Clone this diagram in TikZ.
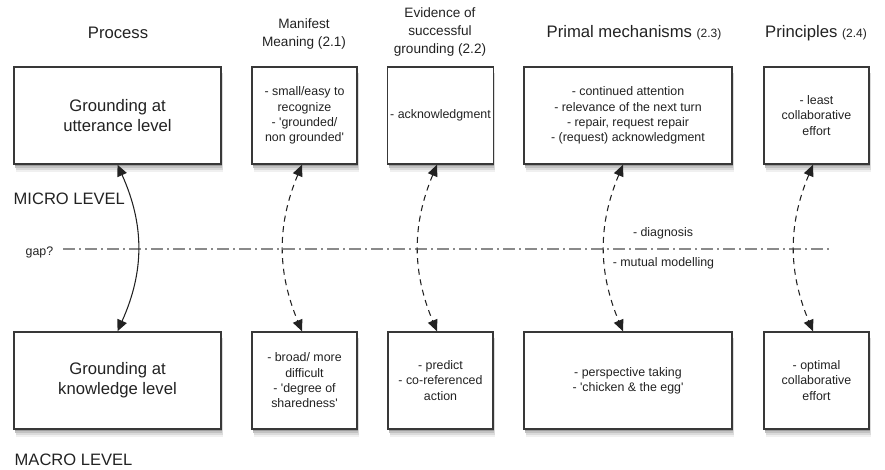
\documentclass[tikz,border=0pt]{standalone}
\usepackage{fontspec}
\setmainfont{Liberation Sans}[Ligatures=TeXOff]
\usetikzlibrary{arrows.meta}
\definecolor{ink}{HTML}{222222}
\definecolor{lineg}{HTML}{8A8A8A}
\tikzset{
  box/.style={draw=ink!90, line width=1.1pt, fill=white, minimum height=97*0.75pt, inner sep=2pt, align=center, text=ink},
  wide/.style={box, minimum width=207*0.75pt},
  narrow/.style={box, minimum width=105*0.75pt},
  primal/.style={box, minimum width=208*0.75pt},
  big/.style={font=\fontsize{12.5}{15}\selectfont},
  small/.style={font=\fontsize{9.3}{11.5}\selectfont},
  head/.style={text=ink, align=center, font=\fontsize{12.5}{15}\selectfont},
  headsm/.style={text=ink, align=center, font=\fontsize{10.2}{13.5}\selectfont},
  lbl/.style={text=ink, font=\fontsize{9.3}{11.5}\selectfont},
  lvl/.style={text=ink, anchor=west, font=\fontsize{12.4}{15}\selectfont},
  link/.style={draw=ink, line width=0.8pt, {Triangle[length=8.5pt,width=7.5pt]}-{Triangle[length=8.5pt,width=7.5pt]}},
  dlink/.style={link, dash pattern=on 4.5pt off 3.5pt}
}
\newcommand{\shadowrect}[4]{% x1 y1 x2 y2 in px
  \fill[black!6] (#1+2,#2+8) rectangle (#3+2,#4+8);
  \fill[black!14] (#1+1.6,#2+6) rectangle (#3+1.6,#4+6);
  \fill[black!24] (#1+1.2,#2+4) rectangle (#3+1.2,#4+4);
  \fill[black!38] (#1+0.8,#2+2) rectangle (#3+0.8,#4+2);
}
\begin{document}
\begin{tikzpicture}[x=0.75pt,y=-0.75pt]
\useasboundingbox (0,0) rectangle (885,470);
% shadows
\shadowrect{14}{67}{221}{164}
\shadowrect{252}{67}{357}{164}
\shadowrect{388}{67}{493}{164}
\shadowrect{524}{67}{732}{164}
\shadowrect{764}{67}{869}{164}
\shadowrect{14}{332}{221}{429}
\shadowrect{252}{332}{357}{429}
\shadowrect{388}{332}{493}{429}
\shadowrect{524}{332}{732}{429}
\shadowrect{764}{332}{869}{429}
% headings
\node[head] (hproc) at (118,33) {Process};
\node[headsm] (hman) at (304,34) {Manifest\\Meaning (2.1)};
\node[headsm] (hevi) at (440,32) {Evidence of\\successful\\grounding (2.2)};
\node[head] (hpri) at (634,33) {Primal mechanisms {\fontsize{9}{11}\selectfont (2.3)}};
\node[head] (hprn) at (816,33) {Principles {\fontsize{9}{11}\selectfont (2.4)}};
% top boxes
\node[wide,big] (pt) at (117.5,115.5) {Grounding at\\utterance level};
\node[narrow,small] (mt) at (304.5,115.5) {- small/easy to\\recognize\\- 'grounded/\\non grounded'};
\node[narrow,small] (et) at (440.5,115.5) {- acknowledgment};
\node[primal,small] (rt) at (628,115.5) {- continued attention\\- relevance of the next turn\\- repair, request repair\\- (request) acknowledgment};
\node[narrow,small] (nt) at (816.5,115.5) {- least\\collaborative\\effort};
% bottom boxes
\node[wide,big] (pb) at (117.5,380.5) {Grounding at\\knowledge level};
\node[narrow,small] (mb) at (304.5,380.5) {- broad/ more\\difficult\\- 'degree of\\sharedness'};
\node[narrow,small] (eb) at (440.5,380.5) {- predict\\- co-referenced\\action};
\node[primal,small] (rb) at (628,380.5) {- perspective taking\\- 'chicken \& the egg'};
\node[narrow,small] (nb) at (816.5,380.5) {- optimal\\collaborative\\effort};
% gap line
\node[lbl, anchor=west] (gap) at (21,252) {gap?};
\coordinate (gapend) at (830,249);
\draw[lineg, line width=0.8pt, dash pattern=on 9pt off 3pt on 1.5pt off 3pt] (gap.east |- gapend) ++(5,0) -- (gapend);
% levels
\node[lvl] (micro) at (9,199) {MICRO LEVEL};
\node[lvl] (macro) at (10,460) {MACRO LEVEL};
% connectors
\draw[link] (pt.south) .. controls +(27,60) and +(27,-60) .. (pb.north);
\draw[dlink] ([xshift=-2.5*0.75pt]mt.south) .. controls +(-25,60) and +(-25,-60) .. ([xshift=-2.5*0.75pt]mb.north);
\draw[dlink] ([xshift=-3.5*0.75pt]et.south) .. controls +(-25,60) and +(-25,-60) .. ([xshift=-3.5*0.75pt]eb.north);
\draw[dlink] ([xshift=-5*0.75pt]rt.south) .. controls +(-25,60) and +(-25,-60) .. ([xshift=-5*0.75pt]rb.north);
\draw[dlink] ([xshift=-3.5*0.75pt]nt.south) .. controls +(-25,60) and +(-25,-60) .. ([xshift=-3.5*0.75pt]nb.north);
% mid labels
\node[lbl] (diag) at (663,233) {- diagnosis};
\node[lbl] (mutual) at (663.5,263) {- mutual modelling};
\end{tikzpicture}
\end{document}
